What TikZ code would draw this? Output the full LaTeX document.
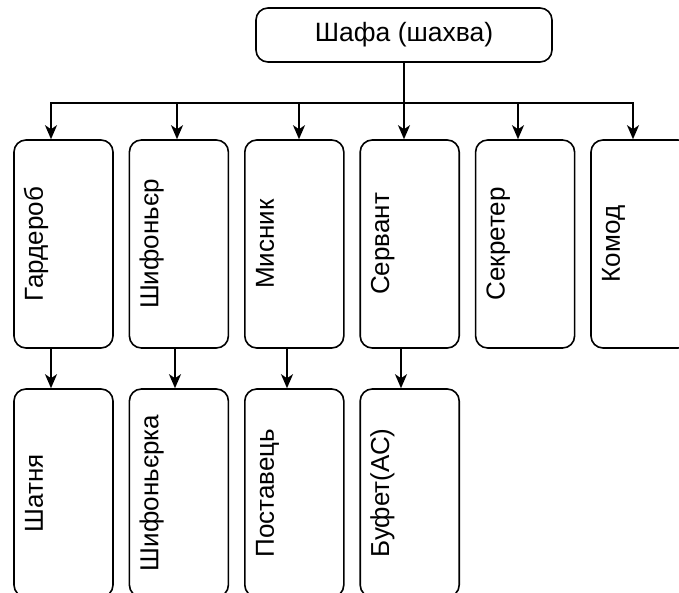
\documentclass[tikz,border=0pt]{standalone}
\usepackage{fontspec}
\setmainfont{Liberation Sans}
\usetikzlibrary{arrows.meta}

\begin{document}
\begin{tikzpicture}[x=1pt,y=-1pt,
	box/.style={draw,line width=1.6pt,rounded corners=12pt,minimum width=99pt,minimum height=208pt,inner sep=0pt},
	vtext/.style={rotate=90,inner sep=0pt,text height=0.905em,text depth=0.212em,font=\fontsize{26}{30}\selectfont},
	arr/.style={line width=1.6pt,-{Stealth[length=14pt,width=12pt,inset=4pt]}}]

\def\ROWA{244}
\def\ROWB{493}
	\useasboundingbox (0,0) rectangle (679,593);
	\clip (0,0) rectangle (679,593);

	% top
	\node[box,minimum width=296pt,minimum height=54pt,font=\fontsize{26.5}{30}\selectfont] (shafa) at (404,35) {Шафа (шахва)};
	\coordinate (bus) at (404,103);

	% first row
	\node[box] (garderob) at (63.5,\ROWA) {};
	\node[box] (shyfonier) at (178.9,\ROWA) {};
	\node[box] (mysnyk) at (294.3,\ROWA) {};
	\node[box] (servant) at (409.7,\ROWA) {};
	\node[box] (sekreter) at (525.1,\ROWA) {};
	\node[box] (komod) at (640.5,\ROWA) {};
	\node[vtext] (garderobT) at ([xshift=-24pt]garderob.center) {Гардероб};
	\node[vtext] (shyfonierT) at ([xshift=-24pt]shyfonier.center) {Шифоньєр};
	\node[vtext] (mysnykT) at ([xshift=-24pt]mysnyk.center) {Мисник};
	\node[vtext] (servantT) at ([xshift=-24pt]servant.center) {Сервант};
	\node[vtext] (sekreterT) at ([xshift=-24pt]sekreter.center) {Секретер};
	\node[vtext] (komodT) at ([xshift=-24pt]komod.center) {Комод};

	% second row
	\node[box] (shatnia) at (63.5,\ROWB) {};
	\node[box] (shyfonierka) at (178.9,\ROWB) {};
	\node[box] (postavets) at (294.3,\ROWB) {};
	\node[box] (bufet) at (409.7,\ROWB) {};
	\node[vtext] (shatniaT) at ([xshift=-24pt]shatnia.center) {Шатня};
	\node[vtext] (shyfonierkaT) at ([xshift=-24pt]shyfonierka.center) {Шифоньєрка};
	\node[vtext] (postavetsT) at ([xshift=-24pt]postavets.center) {Поставець};
	\node[vtext] (bufetT) at ([xshift=-24pt]bufet.center) {Буфет(АС)};

	% arrows
	\draw[line width=1.6pt] (shafa.south) -- (bus);
	\draw[arr] (bus) -| ([xshift=-12.5pt]garderob.north);
	\draw[arr] (bus) -| ([xshift=-1.9pt]shyfonier.north);
	\draw[arr] (bus) -| ([xshift=4.7pt]mysnyk.north);
	\draw[arr] (bus) -- ([xshift=-5.7pt]servant.north);
	\draw[arr] (bus) -| ([xshift=-7.1pt]sekreter.north);
	\draw[arr] (bus) -| ([xshift=-7.5pt]komod.north);
	\draw[arr] ([xshift=-12.5pt]garderob.south) -- ([xshift=-12.5pt]shatnia.north);
	\draw[arr] ([xshift=-3.9pt]shyfonier.south) -- ([xshift=-3.9pt]shyfonierka.north);
	\draw[arr] ([xshift=-7.3pt]mysnyk.south) -- ([xshift=-7.3pt]postavets.north);
	\draw[arr] ([xshift=-8.7pt]servant.south) -- ([xshift=-8.7pt]bufet.north);

\end{tikzpicture}
\end{document}
